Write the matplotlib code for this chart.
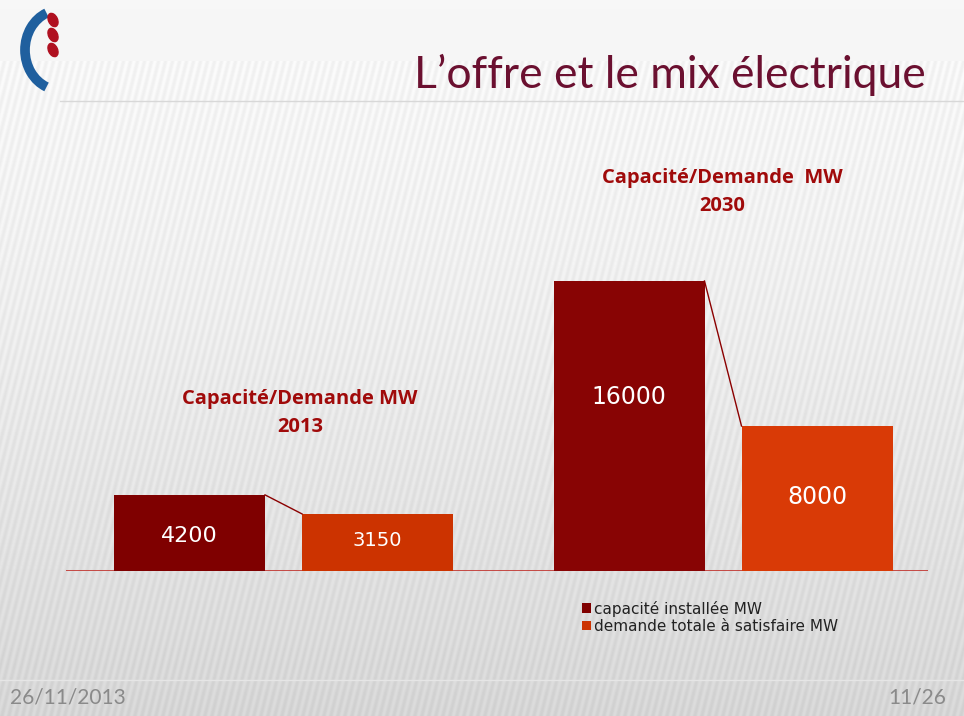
import matplotlib.pyplot as plt
import numpy as np
from matplotlib.patches import Ellipse, Arc

# data
years = ["2013", "2030"]
capacite = [4200, 16000]
demande = [3150, 8000]
series_names = ["capacité installée MW", "demande totale à satisfaire MW"]
group_titles = ["Capacité/Demande MW\n2013", "Capacité/Demande  MW\n2030"]
cap_colors = ["#7f0000", "#880404"]
dem_colors = ["#cc3300", "#d93a06"]
value_sizes = [[16, 14], [17, 17]]

W, H = 964, 716
fig = plt.figure(figsize=(W / 100, H / 100), dpi=100)

# background: light grey with fine vertical stripes, darker towards the bottom
bg = fig.add_axes([0, 0, 1, 1], zorder=-10)
yy, xx = np.mgrid[0:H, 0:W]
base = 0.965 - 0.13 * (yy / H) ** 1.5
stripes = 0.022 * np.sin(2 * np.pi * (xx + 0.25 * yy) / 7.0)
img = np.clip(base + stripes * (yy > 60), 0, 1)
bg.imshow(img, cmap="gray", vmin=0, vmax=1, extent=[0, W, H, 0], aspect="auto")
bg.plot([60, 964], [101, 101], color="#d8d8d8", lw=1)
bg.plot([0, 964], [680, 680], color="#e6e6e6", lw=1)
bg.set_xlim(0, W)
bg.set_ylim(H, 0)
bg.axis("off")

# logo
bg.add_patch(Arc((60, 50), 70, 80, theta1=110, theta2=250, color="#1f5f9e", lw=7))
for cy in [20, 35, 50]:
    bg.add_patch(Ellipse((53, cy), 9, 14, angle=-25, color="#b01020"))

fig.text(0.96, 0.895, "L\u2019offre et le mix électrique", ha="right", va="center",
         fontsize=32, color="#6b1030", family="Lato")

# main chart axes: baseline at y=571 px, from x=66 to 928 px
left, right = 66, 928
base_y, top_y = 571, 160
ax = fig.add_axes([left / W, (H - base_y) / H, (right - left) / W, (base_y - top_y) / H])
ax.set_xlim(0, right - left)
ax.set_ylim(0, 16000 * (base_y - top_y) / 290)
ax.axis("off")
ax.axhline(0, color="#c0302a", lw=1.2, zorder=1)

group_centers = [217.5, 657]
offset, width = 94, 151
cap_pos = [0.46, 0.60]
dem_pos = [0.54, 0.51]
for i, yr in enumerate(years):
    x1 = group_centers[i] - offset
    x2 = group_centers[i] + offset
    ax.bar(x1, capacite[i], width, color=cap_colors[i], zorder=2,
           label=series_names[0] if i == 0 else None)
    ax.bar(x2, demande[i], width, color=dem_colors[i], zorder=2,
           label=series_names[1] if i == 0 else None)
    ax.plot([x1 + width / 2, x2 - width / 2], [capacite[i], demande[i]],
            color="#8b0000", lw=1, zorder=3)
    ax.text(x1, capacite[i] * cap_pos[i], str(capacite[i]), ha="center",
            va="center", color="white", fontsize=value_sizes[i][0])
    ax.text(x2, demande[i] * dem_pos[i], str(demande[i]), ha="center",
            va="center", color="white", fontsize=value_sizes[i][1])

fig.text(300 / W, 1 - 413 / H, group_titles[0], ha="center", va="center",
         fontsize=14.5, fontweight="bold", color="#a00a0a", family="Open Sans",
         linespacing=1.5)
fig.text(722 / W, 1 - 192 / H, group_titles[1], ha="center", va="center",
         fontsize=14.5, fontweight="bold", color="#a00a0a", family="Open Sans",
         linespacing=1.5)

leg = fig.legend(loc="upper left", bbox_to_anchor=(574 / W, 1 - 593 / H), frameon=False,
                 fontsize=11, handlelength=0.6, handleheight=0.6, handletextpad=0.2,
                 labelspacing=0.15, borderpad=0)
for t in leg.get_texts():
    t.set_color("#222222")

fig.text(10 / W, 1 - 697 / H, "26/11/2013", ha="left", va="center", fontsize=15,
         color="#8a8a8a", family="Lato")
fig.text(946 / W, 1 - 697 / H, "11/26", ha="right", va="center", fontsize=15,
         color="#8a8a8a", family="Lato")

fig.savefig("out.png", dpi=100)
